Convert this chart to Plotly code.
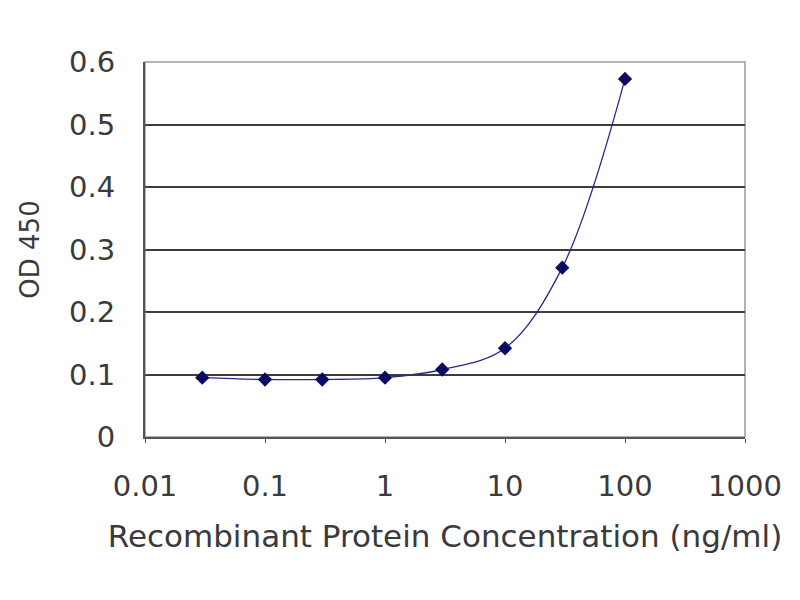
import plotly.graph_objects as go

# concentration (ng/ml) vs OD 450
concentracion = [0.03, 0.1, 0.3, 1, 3, 10, 30, 100]
od_450 = [0.095, 0.092, 0.092, 0.095, 0.108, 0.142, 0.271, 0.573]

x_ticks = [0.01, 0.1, 1, 10, 100, 1000]
x_tick_labels = ["0.01", "0.1", "1", "10", "100", "1000"]
y_ticks = [0, 0.1, 0.2, 0.3, 0.4, 0.5, 0.6]
y_tick_labels = ["0", "0.1", "0.2", "0.3", "0.4", "0.5", "0.6"]

fig = go.Figure()
fig.add_trace(go.Scatter(
    x=concentracion, y=od_450, mode="lines+markers",
    line=dict(color="#2a2a88", width=1.3, shape="spline", smoothing=1),
    marker=dict(symbol="diamond", size=11, color="#0a0a60"),
    showlegend=False,
))

fig.update_layout(
    width=800, height=600,
    margin=dict(l=137, r=63, t=54, b=171),
    paper_bgcolor="white", plot_bgcolor="white",
    font=dict(family="DejaVu Sans, sans-serif", color="#3a3a3a"),
)
fig.update_xaxes(
    type="log", range=[-2, 3],
    tickvals=x_ticks, ticktext=x_tick_labels,
    tickfont=dict(size=29), ticks="outside", ticklen=4, tickcolor="#555555",
    ticklabelstandoff=18,
    showgrid=False, showline=True, linecolor="#555555", linewidth=2,
    zeroline=False,
    title=dict(text="Recombinant Protein Concentration (ng/ml)", font=dict(size=31), standoff=24),
)
fig.update_yaxes(
    range=[0, 0.6],
    tickvals=y_ticks, ticktext=y_tick_labels,
    tickfont=dict(size=29), ticks="inside", ticklen=3, tickcolor="#555555",
    ticklabelstandoff=22,
    showgrid=True, gridcolor="#3c3c3c", gridwidth=2,
    showline=True, linecolor="#555555", linewidth=2, zeroline=False,
    title=dict(text="OD 450", font=dict(size=26), standoff=22),
)
# grey frame on top and right
fig.add_shape(type="rect", xref="paper", yref="paper", x0=0, y0=0, x1=1, y1=1,
              line=dict(color="#9a9a9a", width=1.5), layer="below")

fig.write_html("out.html")
